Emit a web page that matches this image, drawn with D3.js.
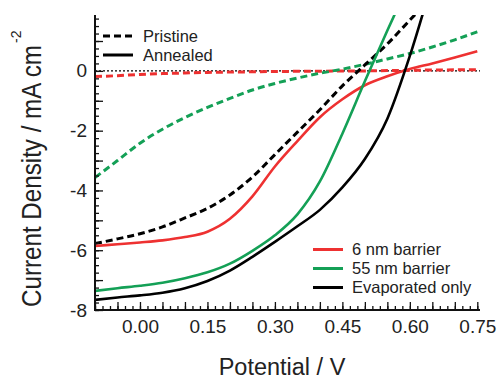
<!DOCTYPE html>
<html>
<head>
<meta charset="utf-8">
<script src="https://cdn.jsdelivr.net/npm/d3@7"></script>
<style>
	body { margin: 0; background: #fff; }
	text { font-family: 'Liberation Sans', Arial, sans-serif; fill: #222; }
</style>
</head>
<body>
<div id="viz"></div>
<script>
// potential grid (V) shared by every curve
const potential = [-0.1, -0.05, 0, 0.05, 0.1, 0.15, 0.2, 0.25, 0.3, 0.35, 0.4, 0.45, 0.5, 0.55, 0.6, 0.65, 0.7, 0.75];

// current density, mA cm^-2 (null = off the top of the plot)
const pristine6nm = [-0.19, -0.16, -0.12, -0.09, -0.07, -0.05, -0.04, -0.03, -0.02, -0.015, -0.01, -0.005, 0, 0.01, 0.02, 0.03, 0.035, 0.04];
const pristine55nm = [-3.57, -3.0, -2.42, -1.95, -1.56, -1.22, -0.92, -0.64, -0.42, -0.24, -0.08, 0.06, 0.22, 0.4, 0.58, 0.8, 1.04, 1.31];
const pristineEvap = [-5.78, -5.62, -5.45, -5.22, -4.92, -4.6, -4.15, -3.55, -2.8, -2.05, -1.3, -0.5, 0.2, 0.9, 1.7, 2.5, null, null];
const annealed6nm = [-5.86, -5.8, -5.74, -5.67, -5.56, -5.38, -4.95, -4.2, -3.2, -2.35, -1.55, -0.95, -0.48, -0.18, 0.06, 0.25, 0.45, 0.66];
const annealed55nm = [-7.36, -7.27, -7.19, -7.09, -6.94, -6.74, -6.45, -6.02, -5.5, -4.8, -3.7, -2.1, -0.35, 1.35, 3.0, null, null, null];
const annealedEvap = [-7.66, -7.58, -7.51, -7.42, -7.27, -7.03, -6.68, -6.22, -5.72, -5.2, -4.65, -3.9, -2.95, -1.6, 0.5, 3.0, null, null];

const xTickValues = [0, 0.15, 0.30, 0.45, 0.60, 0.75];
const yTickValues = [-8, -6, -4, -2, 0];

const sampleLegend = ['6 nm barrier', '55 nm barrier', 'Evaporated only'];
const stateLegend = ['Pristine', 'Annealed'];

const RED = '#ee3131';
const GREEN = '#14a056';
const BLACK = '#000';
const DASH = '7,4';

const series = [
	{ values: pristine6nm, color: RED, dash: DASH },
	{ values: pristine55nm, color: GREEN, dash: DASH },
	{ values: pristineEvap, color: BLACK, dash: DASH },
	{ values: annealed6nm, color: RED, dash: null },
	{ values: annealed55nm, color: GREEN, dash: null },
	{ values: annealedEvap, color: BLACK, dash: null }
];
const sampleColors = [RED, GREEN, BLACK];

const WIDTH = 499, HEIGHT = 379;
const LEFT = 95, RIGHT = 480, TOP = 15, BOTTOM = 310;

const svg = d3.select('#viz').append('svg')
	.attr('width', WIDTH)
	.attr('height', HEIGHT);

svg.append('rect').attr('width', WIDTH).attr('height', HEIGHT).attr('fill', '#fff');

const xScale = d3.scaleLinear().domain([-0.1, 0.756]).range([LEFT, RIGHT]);
const yScale = d3.scaleLinear().domain([-8, 1.87]).range([BOTTOM, TOP]);

svg.append('clipPath').attr('id', 'plot-clip')
	.append('rect')
	.attr('x', LEFT).attr('y', TOP)
	.attr('width', RIGHT - LEFT).attr('height', BOTTOM - TOP);

// zero reference line
svg.append('line')
	.attr('x1', LEFT).attr('x2', RIGHT)
	.attr('y1', yScale(0)).attr('y2', yScale(0))
	.attr('stroke', '#000')
	.attr('stroke-width', 1.3)
	.attr('stroke-dasharray', '2,2');

const generateLine = d3.line()
	.defined((d) => d[1] != null)
	.x((d) => xScale(d[0]))
	.y((d) => yScale(d[1]))
	.curve(d3.curveMonotoneX);

svg.append('g')
	.attr('clip-path', 'url(#plot-clip)')
	.selectAll('.curve')
	.data(series)
	.enter()
	.append('path')
	.attr('class', 'curve')
	.attr('fill', 'none')
	.attr('stroke', (d) => d.color)
	.attr('stroke-width', (d) => d.dash ? 3 : 2.6)
	.attr('stroke-dasharray', (d) => d.dash)
	.attr('d', (d) => generateLine(potential.map((v, i) => [v, d.values[i]])));

// axes, ticks drawn inward
const xMinor = d3.range(-6, 46).map((i) => i / 60);
const xMedium = d3.range(-2, 16).map((i) => i / 20);
const yMinor = d3.range(-32, 8).map((i) => i / 4);
const yMedium = d3.range(-8, 2);

const xAxis = svg.append('g')
	.attr('class', 'x axis')
	.attr('transform', 'translate(0,' + BOTTOM + ')');

xAxis.append('g')
	.call(d3.axisTop(xScale).tickValues(xMinor).tickSize(4).tickFormat(''))
	.call((g) => g.select('.domain').remove());
xAxis.append('g')
	.call(d3.axisTop(xScale).tickValues(xMedium).tickSize(8).tickFormat(''))
	.call((g) => g.select('.domain').remove());
xAxis.append('g')
	.call(d3.axisBottom(xScale).tickValues(xTickValues).tickSize(0).tickPadding(10).tickFormat(d3.format('.2f')))
	.call((g) => g.select('.domain').remove())
	.selectAll('text')
	.attr('font-size', 19);

const yAxis = svg.append('g')
	.attr('class', 'y axis')
	.attr('transform', 'translate(' + LEFT + ',0)');

yAxis.append('g')
	.call(d3.axisRight(yScale).tickValues(yMinor).tickSize(4).tickFormat(''))
	.call((g) => g.select('.domain').remove());
yAxis.append('g')
	.call(d3.axisRight(yScale).tickValues(yMedium).tickSize(8).tickFormat(''))
	.call((g) => g.select('.domain').remove());
yAxis.append('g')
	.call(d3.axisLeft(yScale).tickValues(yTickValues).tickSize(0).tickPadding(8).tickFormat((d) => d === 0 ? '0' : '-' + Math.abs(d)))
	.call((g) => g.select('.domain').remove())
	.selectAll('text')
	.attr('font-size', 19);

svg.selectAll('.axis line').attr('stroke', '#111').attr('stroke-width', 1.3);
svg.selectAll('.axis text').attr('fill', '#222').attr('font-family', "'Liberation Sans', Arial, sans-serif");

svg.append('line')
	.attr('x1', LEFT).attr('x2', LEFT)
	.attr('y1', TOP).attr('y2', BOTTOM + 1)
	.attr('stroke', '#111').attr('stroke-width', 2);
svg.append('line')
	.attr('x1', LEFT - 1).attr('x2', RIGHT)
	.attr('y1', BOTTOM).attr('y2', BOTTOM)
	.attr('stroke', '#111').attr('stroke-width', 2);

// axis titles
svg.append('text')
	.attr('x', 282).attr('y', 375)
	.attr('text-anchor', 'middle')
	.attr('font-size', 23.5)
	.text('Potential / V');

svg.append('text')
	.attr('transform', 'translate(41,307) rotate(-90)')
	.attr('font-size', 27)
	.attr('textLength', 262)
	.attr('lengthAdjust', 'spacingAndGlyphs')
	.text('Current Density / mA cm');

svg.append('text')
	.attr('transform', 'translate(21,43) rotate(-90)')
	.attr('font-size', 14)
	.text('-2');

// legend: pristine / annealed
const stateLegendG = svg.append('g').attr('class', 'legend');
stateLegend.forEach((label, i) => {
	const y = 36 + i * 19;
	stateLegendG.append('line')
		.attr('x1', 103).attr('x2', 133)
		.attr('y1', y).attr('y2', y)
		.attr('stroke', BLACK)
		.attr('stroke-width', 3)
		.attr('stroke-dasharray', i === 0 ? DASH : null);
	stateLegendG.append('text')
		.attr('x', 143).attr('y', y + 5.5)
		.attr('font-size', 16.5)
		.text(label);
});

// legend: samples
const sampleLegendG = svg.append('g').attr('class', 'legend');
sampleLegend.forEach((label, i) => {
	const y = 249.5 + i * 19;
	sampleLegendG.append('line')
		.attr('x1', 313).attr('x2', 343)
		.attr('y1', y).attr('y2', y)
		.attr('stroke', sampleColors[i])
		.attr('stroke-width', 3);
	sampleLegendG.append('text')
		.attr('x', 352).attr('y', y + 5.5)
		.attr('font-size', 16.5)
		.text(label);
});
</script>
</body>
</html>
